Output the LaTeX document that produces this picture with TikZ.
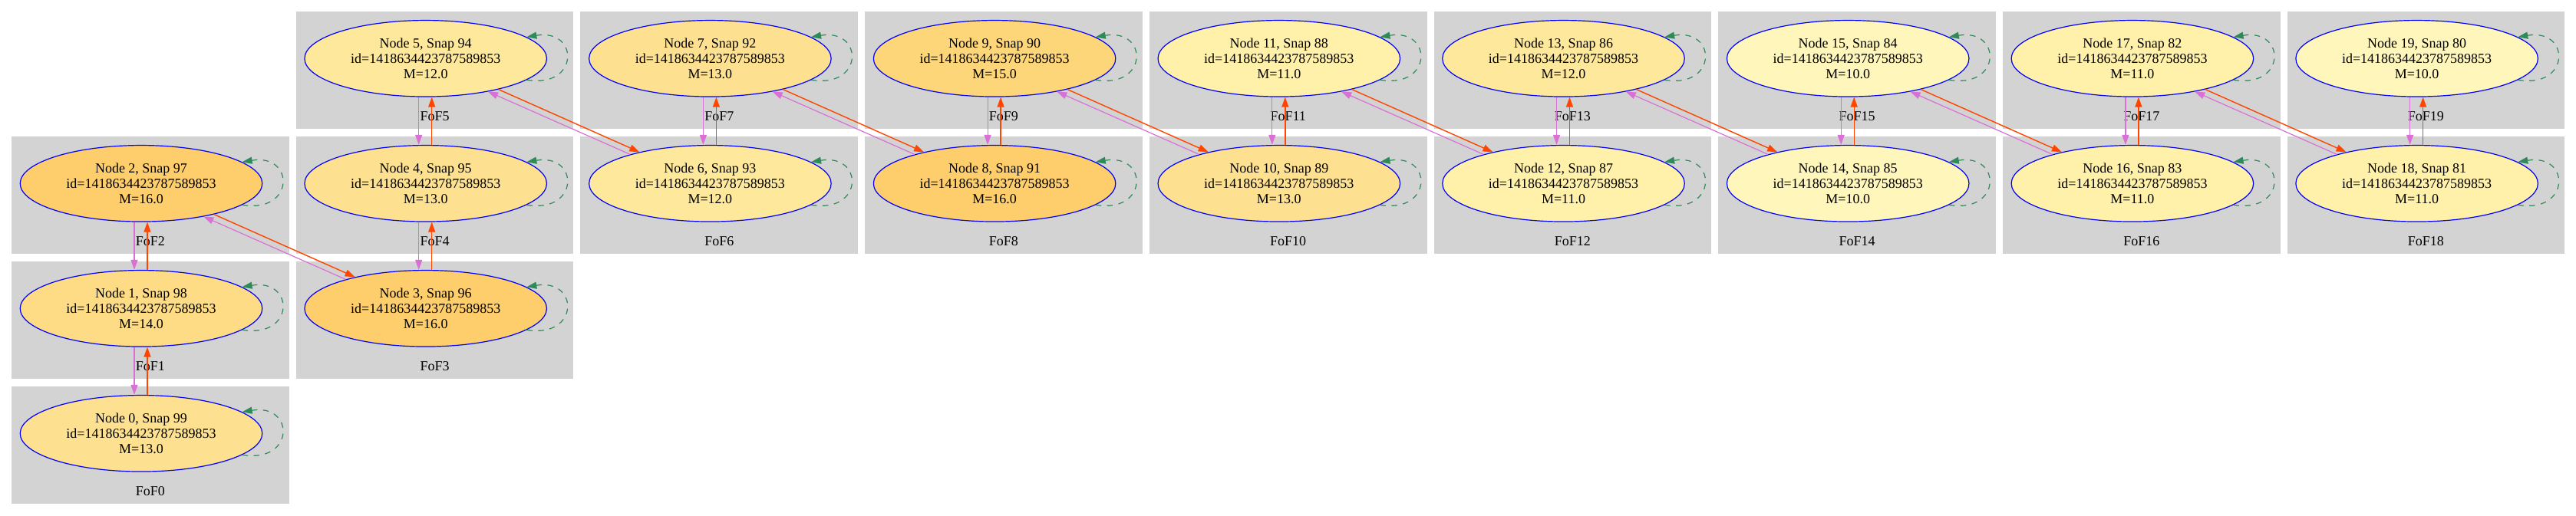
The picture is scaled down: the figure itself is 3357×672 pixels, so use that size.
\documentclass[tikz,border=0pt]{standalone}
\usepackage{fontspec}
\setmainfont{Liberation Serif}
\usetikzlibrary{arrows.meta,shapes.geometric}
\definecolor{clus}{HTML}{D3D3D3}
\definecolor{mTen}{HTML}{FFF6BB}
\definecolor{mEleven}{HTML}{FFF0AA}
\definecolor{mTwelve}{HTML}{FEE89C}
\definecolor{mThirteen}{HTML}{FEE190}
\definecolor{mFourteen}{HTML}{FEDC86}
\definecolor{mFifteen}{HTML}{FED67A}
\definecolor{mSixteen}{HTML}{FECE6C}
\definecolor{vio}{HTML}{DA70D6}
\definecolor{ora}{HTML}{FF4500}
\definecolor{loopc}{HTML}{2E8B57}
\begin{document}
\begin{tikzpicture}[x=1pt,y=-1pt,
  fofnode/.style={ellipse,draw=blue,line width=1.2pt,minimum width=315.5pt,minimum height=99.5pt,inner sep=0pt,align=center,font=\fontsize{18pt}{20pt}\selectfont},
  foflabel/.style={font=\fontsize{18pt}{20pt}\selectfont,inner sep=0pt},
  violink/.style={draw=vio,line width=1.2pt,-{Triangle[length=13pt,width=9pt]}},
  oralink/.style={draw=ora,line width=1.4pt,-{Triangle[length=13pt,width=9pt]}},
  selfloop/.style={draw=loopc,line width=1.2pt,dash pattern=on 7.5pt off 7.5pt,-{Triangle[length=13pt,width=9pt]}}
]
\useasboundingbox (0,0) rectangle (3357,672);
\fill[white] (0,0) rectangle (3357,672);
\foreach \k/\c/\r/\s/\m/\fc in {0/0/3/99/13.0/mThirteen, 1/0/2/98/14.0/mFourteen, 2/0/1/97/16.0/mSixteen,
  3/1/2/96/16.0/mSixteen, 4/1/1/95/13.0/mThirteen, 5/1/0/94/12.0/mTwelve,
  6/2/1/93/12.0/mTwelve, 7/2/0/92/13.0/mThirteen, 8/3/1/91/16.0/mSixteen, 9/3/0/90/15.0/mFifteen,
  10/4/1/89/13.0/mThirteen, 11/4/0/88/11.0/mEleven, 12/5/1/87/11.0/mEleven, 13/5/0/86/12.0/mTwelve,
  14/6/1/85/10.0/mTen, 15/6/0/84/10.0/mTen, 16/7/1/83/11.0/mEleven, 17/7/0/82/11.0/mEleven,
  18/8/1/81/11.0/mEleven, 19/8/0/80/10.0/mTen} {
  \pgfmathsetmacro{\L}{15+\c*370.7}
  \pgfmathsetmacro{\T}{15+\r*163}
  \fill[clus] (\L,\T) rectangle ++(361.7,153);
  \node[foflabel] (lab\k) at (\L+180.85,\T+136.5) {FoF\k};
  \node[fofnode,fill=\fc] (n\k) at (\L+169,\T+61.3) {Node \k, Snap \s\\id=1418634423787589853\\M=\m};
}
\foreach \k in {0,...,19}
  \draw[selfloop] (n\k.-12) .. controls +(69,11.5) and +(69,-11.5) .. (n\k.12);
\foreach \k/\j in {0/1,1/2,3/4,4/5,6/7,8/9,10/11,12/13,14/15,16/17,18/19} {
  \draw[violink] ([xshift=-9pt]n\j.south) -- ([xshift=-9pt]n\k.north);
  \draw[oralink] ([xshift=8pt]n\k.north) -- ([xshift=8pt]n\j.south);
}
\foreach \k/\j in {2/3,5/6,7/8,9/10,11/12,13/14,15/16,17/18} {
  \draw[oralink] (n\k.-23) -- (n\j.156);
  \draw[violink] (n\j.160) -- (n\k.-28);
}
\end{tikzpicture}
\end{document}
